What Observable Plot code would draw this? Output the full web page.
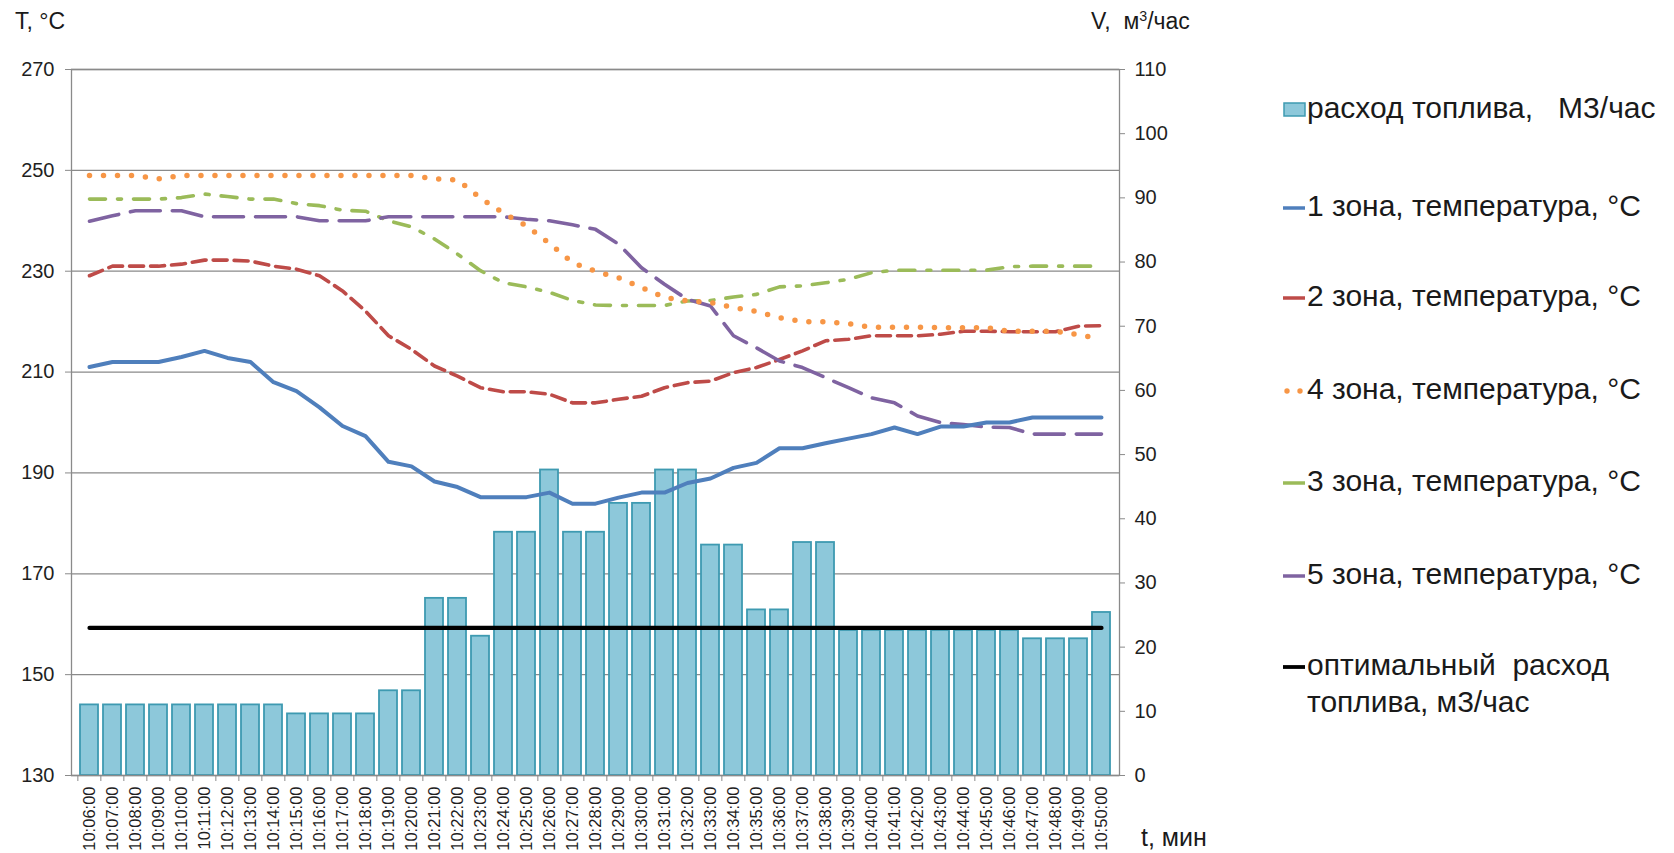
<!DOCTYPE html>
<html>
<head>
<meta charset="utf-8">
<script src="https://cdn.jsdelivr.net/npm/d3@7"></script>
<script src="https://cdn.jsdelivr.net/npm/@observablehq/plot@0.6"></script>
<style>
  html, body { margin: 0; padding: 0; background: #fff; }
  #wrap { position: relative; width: 1674px; height: 853px; overflow: hidden; font-family: "Liberation Sans", Arial, sans-serif; color: #1a1a1a; }
  .ttl { position: absolute; font-size: 23px; line-height: 1; white-space: pre; }
  .ttl sup { font-size: 0.62em; line-height: 0; vertical-align: 0.55em; }
  .leg { position: absolute; left: 1283px; font-size: 30px; line-height: 37px; white-space: pre; display: flex; align-items: flex-start; }
  .leg svg { flex: none; margin-top: 13px; }
</style>
</head>
<body>
<div id="wrap"></div>
<script>
// ---------- data ----------
const times = ["10:06:00","10:07:00","10:08:00","10:09:00","10:10:00","10:11:00","10:12:00","10:13:00","10:14:00","10:15:00",
  "10:16:00","10:17:00","10:18:00","10:19:00","10:20:00","10:21:00","10:22:00","10:23:00","10:24:00","10:25:00",
  "10:26:00","10:27:00","10:28:00","10:29:00","10:30:00","10:31:00","10:32:00","10:33:00","10:34:00","10:35:00",
  "10:36:00","10:37:00","10:38:00","10:39:00","10:40:00","10:41:00","10:42:00","10:43:00","10:44:00","10:45:00",
  "10:46:00","10:47:00","10:48:00","10:49:00","10:50:00"];

// fuel consumption, m3/h (right axis)
const fuel = [11,11,11,11,11,11,11,11,11,9.6,
  9.6,9.6,9.6,13.2,13.2,27.6,27.6,21.7,37.9,37.9,
  47.6,37.9,37.9,42.4,42.4,47.6,47.6,35.9,35.9,25.8,
  25.8,36.3,36.3,22.6,22.6,22.6,22.6,22.6,22.6,22.6,
  22.6,21.3,21.3,21.3,25.4];

// temperatures, °C (left axis)
const zone1 = [211,212,212,212,213,214.2,212.8,212,208,206.2,
  203,199.3,197.3,192.2,191.3,188.3,187.2,185.2,185.2,185.2,
  186.1,183.9,183.9,185.1,186.1,186.1,188,188.9,191,192,
  194.9,194.9,195.9,196.8,197.7,199,197.7,199.2,199.2,200,
  200,201,201,201,201];
const zone2 = [229.1,231,231,231,231.4,232.2,232.2,232,231,230.4,
  229.1,226.1,222.1,217.2,214.5,211.2,209.2,206.9,206.1,206.1,
  205.6,203.9,203.9,204.6,205.2,206.9,207.9,208.2,209.9,210.9,
  212.5,214.2,216.2,216.5,217.2,217.2,217.2,217.5,218.1,218.1,
  218,218,218,219.1,219.2];
const zone4 = [249,249,249,248.3,249,249,249,249,249,249,
  249,249,249,249,249,248.3,248.1,244.5,241.5,239,
  235.5,231.7,230,228.7,226.8,224.8,224.1,223.8,222.8,222,
  220.8,220,220,219.6,218.9,218.9,218.9,218.8,218.8,218.8,
  218.1,218.1,218.1,217.4,216.6];
const zone3 = [244.3,244.3,244.3,244.3,244.6,245.3,244.8,244.3,244.3,243.4,
  243,242.1,241.9,240,238.8,236.4,233.4,230.1,227.7,226.9,
  225.8,224.2,223.3,223.2,223.2,223.2,224.1,224.2,224.9,225.4,
  226.9,227.1,227.7,228.4,229.7,230.2,230.2,230.2,230.2,230.2,
  230.9,231,231,231,231];
const zone5 = [239.9,241,242,242,242,240.8,240.8,240.8,240.8,240.8,
  240,240,240,240.8,240.8,240.8,240.8,240.8,240.8,240.3,
  240,239.2,238.3,235.4,230.7,227.4,224.4,223.1,217.2,214.8,
  212.2,210.9,208.9,206.9,204.9,203.9,201.3,200,199.6,199.1,
  199,197.7,197.7,197.7,197.7];

const optimalFuel = 23;   // m3/h

const tTicks = [130,150,170,190,210,230,250,270];
const vTicks = [0,10,20,30,40,50,60,70,80,90,100,110];

const legendLabels = [
  "расход топлива,   М3/час",
  "1 зона, температура, °С",
  "2 зона, температура, °С",
  "4 зона, температура, °С",
  "3 зона, температура, °С",
  "5 зона, температура, °С",
  "оптимальный  расход\nтоплива, м3/час"
];

// ---------- styles ----------
const C = {
  barFill: "#8DC8DA", barStroke: "#3E9AB1",
  z1: "#4F7FBC", z2: "#BE4B48", z4: "#F79646", z3: "#9BBB59", z5: "#7F63A1",
  grid: "#8a8a8a", text: "#1f1f1f"
};

// secondary axis mapping (V -> T space)
const T0 = 130, T1 = 270, V1 = 110;
const toT = v => T0 + v * (T1 - T0) / V1;
const toV = t => (t - T0) * V1 / (T1 - T0);

const bars = times.map((t, i) => ({t, v: fuel[i]}));
const series = (arr) => times.map((t, i) => ({t, y: arr[i]}));
const optLine = [times[0], times[times.length - 1]].map(t => ({t, y: toT(optimalFuel)}));

const W = 1674, H = 853, mL = 71, mR = 555, mT = 69, mB = 78;
const step = (W - mL - mR) / times.length;
const font = "'Liberation Sans', Arial, sans-serif";

const chart = Plot.plot({
  width: W, height: H,
  marginLeft: mL, marginRight: mR, marginTop: mT, marginBottom: mB,
  style: {fontFamily: font, color: C.text, background: "transparent", overflow: "visible"},
  x: {type: "band", domain: times, paddingInner: 0.22, paddingOuter: 0.11},
  y: {domain: [T0, T1]},
  marks: [
    Plot.ruleY(tTicks, {stroke: C.grid, strokeWidth: 1.3}),
    Plot.barY(bars, {x: "t", y1: T0, y2: d => toT(d.v), fill: C.barFill, stroke: C.barStroke, strokeWidth: 1.8}),
    Plot.frame({stroke: C.grid, strokeWidth: 1.3}),
    Plot.line(series(zone2), {x: "t", y: "y", stroke: C.z2, strokeWidth: 3.6, strokeDasharray: "14,7"}),
    Plot.line(series(zone3), {x: "t", y: "y", stroke: C.z3, strokeWidth: 3.6, strokeDasharray: "16,12,4,12"}),
    Plot.line(series(zone5), {x: "t", y: "y", stroke: C.z5, strokeWidth: 3.6, strokeDasharray: "30,12"}),
    Plot.line(series(zone4), {x: "t", y: "y", stroke: C.z4, strokeWidth: 5.5, strokeDasharray: "0,14", strokeLinecap: "round"}),
    Plot.line(series(zone1), {x: "t", y: "y", stroke: C.z1, strokeWidth: 4}),
    Plot.line(optLine, {x: "t", y: "y", stroke: "#000", strokeWidth: 4.2}),
    Plot.axisY({anchor: "left", ticks: tTicks, tickSize: 6, tickPadding: 11, fontSize: 20, label: null, stroke: C.grid}),
    Plot.axisY({anchor: "right", ticks: vTicks.map(toT), tickFormat: t => String(Math.round(toV(t))), tickSize: 5, tickPadding: 10, fontSize: 20, label: null, stroke: C.grid}),
    Plot.axisX({tickSize: 6, tickFormat: () => "", dx: -step / 2, label: null, stroke: C.grid}),
    Plot.axisX({tickSize: 0, tickRotate: -90, tickPadding: 11, fontSize: 16.5, label: null})
  ]
});

const wrap = document.getElementById("wrap");
wrap.appendChild(chart);
chart.style.position = "absolute";
chart.style.left = "0px";
chart.style.top = "0px";

function addText(html, left, top, size) {
  const d = document.createElement("div");
  d.className = "ttl";
  d.innerHTML = html;
  d.style.left = left + "px";
  d.style.top = top + "px";
  if (size) d.style.fontSize = size + "px";
  wrap.appendChild(d);
}
addText("T, °C", 15, 10);
addText("V,  м<sup>3</sup>/час", 1091, 10);
addText("t, мин", 1141, 825, 25);

// legend
const rowCenters = [108, 206, 296, 389, 481, 574, 665];
const swatch = [
  `<svg width="24" height="16"><rect x="1" y="1" width="21" height="13" fill="${C.barFill}" stroke="${C.barStroke}" stroke-width="1.5"/></svg>`,
  `<svg width="24" height="16"><line x1="0" y1="8" x2="22" y2="8" stroke="${C.z1}" stroke-width="3.5"/></svg>`,
  `<svg width="24" height="16"><line x1="0" y1="8" x2="22" y2="8" stroke="${C.z2}" stroke-width="3.5"/></svg>`,
  `<svg width="24" height="16"><circle cx="4" cy="8" r="2.7" fill="${C.z4}"/><circle cx="17" cy="8" r="2.7" fill="${C.z4}"/></svg>`,
  `<svg width="24" height="16"><line x1="0" y1="8" x2="22" y2="8" stroke="${C.z3}" stroke-width="3.5"/></svg>`,
  `<svg width="24" height="16"><line x1="0" y1="8" x2="22" y2="8" stroke="${C.z5}" stroke-width="3.5"/></svg>`,
  `<svg width="24" height="16"><line x1="0" y1="8" x2="22" y2="8" stroke="#000" stroke-width="3.8"/></svg>`
];
legendLabels.forEach((lab, i) => {
  const row = document.createElement("div");
  row.className = "leg";
  row.style.top = (rowCenters[i] - 19) + "px";
  row.innerHTML = swatch[i];
  const s = document.createElement("span");
  s.textContent = lab;
  row.appendChild(s);
  wrap.appendChild(row);
});
</script>
</body>
</html>
